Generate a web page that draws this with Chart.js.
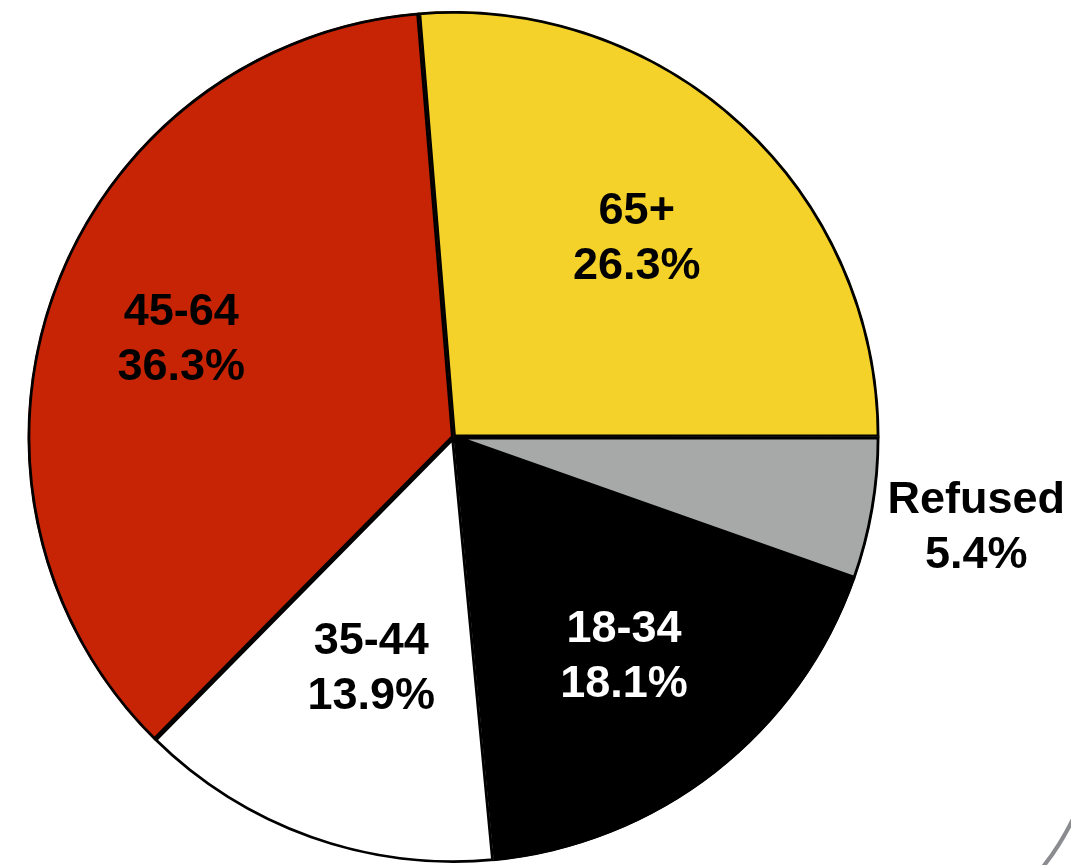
<!DOCTYPE html>
<html>
<head>
<meta charset="utf-8">
<script src="https://cdn.jsdelivr.net/npm/chart.js@4"></script>
<style>
html,body{margin:0;padding:0;background:#fff;}
#wrap{width:1071px;height:865px;position:relative;}
</style>
</head>
<body>
<div id="wrap"><canvas id="c" width="1071" height="865"></canvas></div>
<script>
const categories = ["65+", "Refused", "18-34", "35-44", "45-64"];
const values = [26.3, 5.4, 18.1, 13.9, 36.3];
const valueLabels = ["26.3%", "5.4%", "18.1%", "13.9%", "36.3%"];
const sliceColors = ["#F5D22A", "#A6A9A8", "#000000", "#FFFFFF", "#C62405"];
const labelColors = ["#000000", "#000000", "#FFFFFF", "#000000", "#000000"];
const labelRadius = [0.635, 1.245, 0.65, 0.575, 0.68];

const labelPlugin = {
  id: 'sliceLabels',
  afterDatasetsDraw(chart) {
    const ctx = chart.ctx;
    const meta = chart.getDatasetMeta(0);
    ctx.save();
    ctx.font = 'bold 45px "Liberation Sans", Arial, sans-serif';
    ctx.textAlign = 'center';
    ctx.textBaseline = 'middle';
    meta.data.forEach((arc, i) => {
      const p = arc.getProps(['x','y','startAngle','endAngle','outerRadius'], true);
      const mid = (p.startAngle + p.endAngle) / 2;
      const r = p.outerRadius * labelRadius[i];
      const x = p.x + Math.cos(mid) * r;
      const y = p.y + Math.sin(mid) * r;
      ctx.fillStyle = labelColors[i];
      ctx.fillText(categories[i], x, y - 26);
      ctx.fillText(valueLabels[i], x, y + 29);
    });
    ctx.restore();
  }
};

const decoPlugin = {
  id: 'deco',
  afterDraw(chart) {
    const ctx = chart.ctx;
    ctx.save();
    ctx.strokeStyle = '#8B8C90';
    ctx.lineWidth = 4;
    ctx.beginPath();
    ctx.moveTo(1042, 868);
    ctx.quadraticCurveTo(1060, 846, 1074, 817);
    ctx.stroke();
    ctx.restore();
  }
};

new Chart(document.getElementById('c'), {
  type: 'pie',
  data: {
    labels: categories,
    datasets: [{
      data: values,
      backgroundColor: sliceColors,
      borderColor: '#000000',
      borderWidth: 2.5,
      borderAlign: 'inner'
    }]
  },
  options: {
    responsive: false,
    animation: false,
    rotation: -4.7,
    layout: { padding: { left: 27, right: 191, top: 11, bottom: 2 } },
    plugins: { legend: { display: false }, tooltip: { enabled: false } }
  },
  plugins: [labelPlugin, decoPlugin]
});
</script>
</body>
</html>
